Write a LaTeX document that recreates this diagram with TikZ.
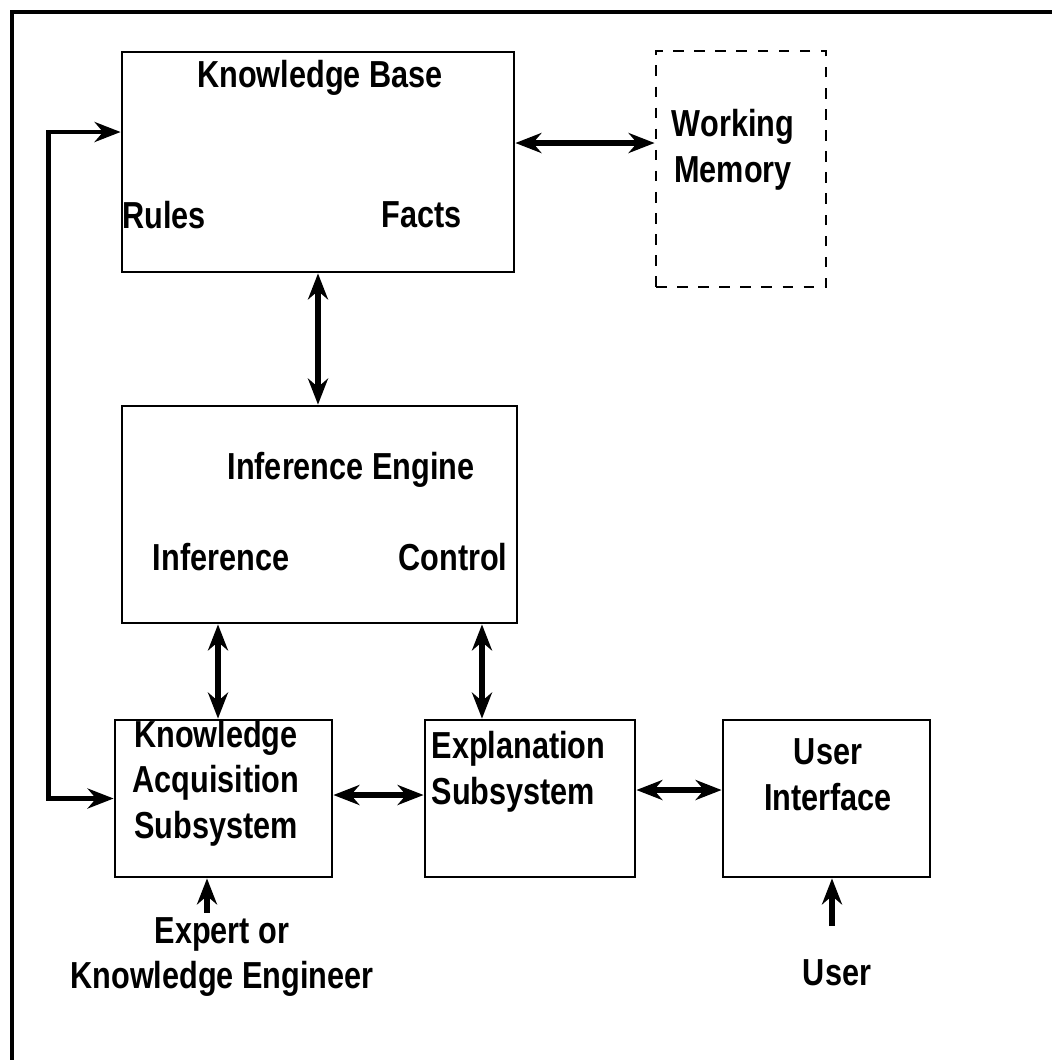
\documentclass[tikz,border=0pt]{standalone}
\usepackage{fontspec}
\setmainfont{Liberation Sans}[FakeStretch=0.815]
\usetikzlibrary{arrows.meta}

\begin{document}
\begin{tikzpicture}[x=0.1mm,y=-0.1mm,
        font=\fontsize{10.7}{13}\selectfont\bfseries,
        >={Stealth[length=2.6mm,width=2mm]},
        box/.style={draw,line width=0.8pt,inner sep=0pt},
        txt/.style={align=center,inner sep=0pt}]
    \useasboundingbox (0,0) rectangle (1052,1060);

    % outer frame, cut off at the right and the bottom
    \draw[line width=1pt] (12,1060) -- (12,12) -- (1052,12);

        \begin{scope}[every node/.style={box}]
            \node[minimum width=3.92cm,minimum height=2.2cm] (kb) at (318,162) {};
            \node[dashed,minimum width=1.7cm,minimum height=2.36cm] (wm) at (741,169) {};
            \node[minimum width=3.95cm,minimum height=2.17cm] (ie) at (319.5,514.5) {};
            \node[minimum width=2.17cm,minimum height=1.57cm] (ka) at (223.5,798.5) {};
            \node[minimum width=2.1cm,minimum height=1.57cm] (es) at (530,798.5) {};
            \node[minimum width=2.07cm,minimum height=1.57cm] (ui) at (826.5,798.5) {};
        \end{scope}

        \begin{scope}[every node/.style={txt}]
            \node (kbt) at (320,78) {Knowledge Base};
            \node (rules) at (164,215) {Rules};
            \node (facts) at (422,215) {Facts};
            \node (wmt) at (733,150) {Working\\Memory};
            \node (iet) at (351,470) {Inference Engine};
            \node (inf) at (221,557) {Inference};
            \node (ctl) at (453,557) {Control};
            \node (kat) at (216,783) {Knowledge\\Acquisition\\Subsystem};
            \node[align=left,anchor=west] (est) at (431,772) {Explanation\\Subsystem};
            \node (uit) at (828,775) {User\\Interface};
            \node (expert) at (222,957) {Expert or\\Knowledge Engineer};
            \node (user) at (837,973) {User};
        \end{scope}

        \begin{scope}[every edge/.style={draw,line width=1.6pt}]
            \path [<->] ([yshift=1.9mm]kb.east) edge ([yshift=1.9mm]kb.east -| wm.west);
            \path [<->] (kb.south) edge (kb.south |- ie.north);
            \path [<->] ([xshift=-10.15mm]ie.south) edge ([xshift=-10.15mm]ie.south |- ka.north);
            \path [<->] ([xshift=16.25mm]ie.south) edge ([xshift=16.25mm]ie.south |- es.north);
            \path [<->] ([yshift=0.35mm]ka.east) edge ([yshift=0.35mm]ka.east -| es.west);
            \path [<->] ([yshift=0.85mm]es.east) edge ([yshift=0.85mm]es.east -| ui.west);
            \path [->] ([xshift=-1.5mm,yshift=0.4mm]expert.north) edge ([xshift=-1.5mm]expert.north |- ka.south);
            \path [->] ([xshift=-0.5mm,yshift=3.3mm]user.north) edge ([xshift=-0.5mm]user.north |- ui.south);
        \end{scope}

    % loop from the knowledge base round to the acquisition subsystem
    \draw[<->,line width=1.2pt] ([yshift=3mm]kb.west) -| ([xshift=-6.5mm]ka.west) -- (ka.west);

\end{tikzpicture}
\end{document}
